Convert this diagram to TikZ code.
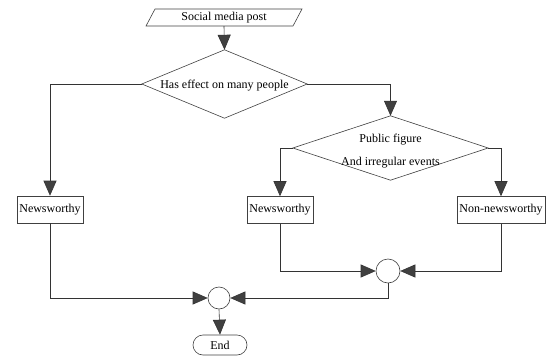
\documentclass[tikz,border=0pt]{standalone}
\usepackage{fontspec}
\setmainfont{Liberation Serif}
\usetikzlibrary{arrows.meta}
\begin{document}
\begin{tikzpicture}[x=1pt,y=-1pt, font=\fontsize{12}{14}\selectfont,
  line/.style={draw=black!80, line width=0.6pt},
  arr/.style={line, -{Triangle[length=15pt,width=13pt,fill=black!75]}},
  outl/.style={draw=black!75, line width=0.6pt},
  box/.style={outl, rectangle, minimum height=27pt, inner sep=2pt},
  hold/.style={rectangle, inner sep=0pt},
  junc/.style={outl, circle, inner sep=0pt, fill=white}
]
\useasboundingbox (0,0) rectangle (546,356);
% start parallelogram
\node[hold, minimum width=147pt, minimum height=17pt] (post) at (224,17.5) {Social media post};
\draw[outl] (146,26) -- (293,26) -- (302,9) -- (155,9) -- cycle;
% decision 1
\node[hold, minimum width=165pt, minimum height=68pt] (d1) at (224.5,84) {};
\draw[outl] (d1.north) -- (d1.east) -- (d1.south) -- (d1.west) -- cycle;
\node at (224.5,86) {Has effect on many people};
% decision 2
\node[hold, minimum width=195pt, minimum height=64pt] (d2) at (390.5,148) {};
\draw[outl] (d2.north) -- (d2.east) -- (d2.south) -- (d2.west) -- cycle;
\node[align=center, font=\fontsize{12}{23}\selectfont] at (390.5,151) {Public figure\\And irregular events};
% boxes
\node[box, minimum width=66pt] (nw1) at (50,209.5) {Newsworthy};
\node[box, minimum width=66pt] (nw2) at (280,210) {Newsworthy};
\node[box, minimum width=88pt] (nn) at (501,210) {Non-newsworthy};
% junctions
\node[junc, minimum size=24pt] (c1) at (388,271) {};
\node[junc, minimum size=22pt] (c2) at (219,298) {};
% end
\node[outl, rectangle, rounded corners=10pt, minimum width=54pt, minimum height=20pt, inner sep=0pt] (end) at (220,345) {End};
% connectors
\draw[arr] (post.south) -- (d1.north);
\draw[arr] (d1.west) -| (nw1.north);
\draw[arr] (d1.east) -| (d2.north);
\draw[arr] (d2.west) -| (nw2.north);
\draw[arr] (d2.east) -| (nn.north);
\draw[arr] (nw2.south) |- (c1.west);
\draw[arr] (nn.south) |- (c1.east);
\draw[arr] (nw1.south) |- (c2.west);
\draw[arr] (c1.south) |- (c2.east);
\draw[arr] (c2.south) -- (end.north);
\end{tikzpicture}
\end{document}
